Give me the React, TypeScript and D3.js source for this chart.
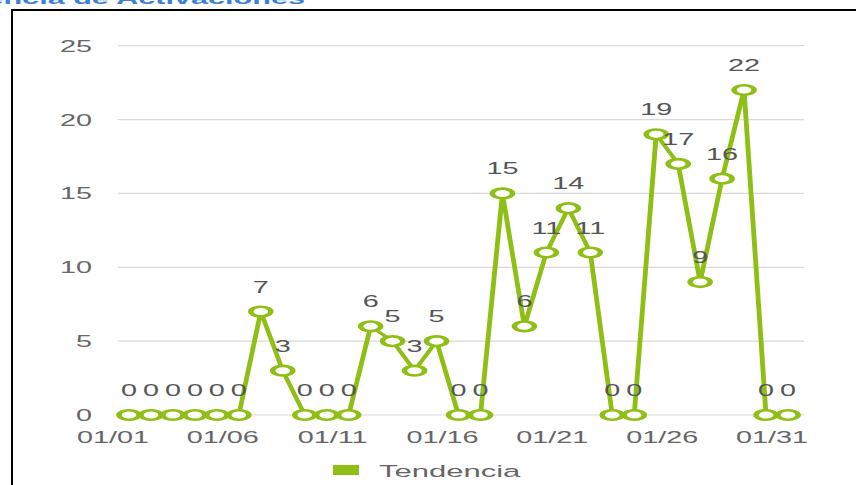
import React from "react";
import * as d3 from "d3";

const dates = Array.from({ length: 31 }, (_, i) => `01/${String(i + 1).padStart(2, "0")}`);
const values = [0, 0, 0, 0, 0, 0, 7, 3, 0, 0, 0, 6, 5, 3, 5, 0, 0, 15, 6, 11, 14, 11, 0, 0, 19, 17, 9, 16, 22, 0, 0];
const yTicks = [0, 5, 10, 15, 20, 25];
const xTickLabels = ["01/01", "01/06", "01/11", "01/16", "01/21", "01/26", "01/31"];
const seriesName = "Tendencia";
const title = "Tendencia de Activaciones";

const W = 856;
const H = 485;
const GREEN = "#8fbf14";
const SX = 2.1; // horizontal stretch of the plot marks
const TS = 1.8; // horizontal stretch of text

export default function App() {
  const x = d3.scaleLinear().domain([0, dates.length - 1]).range([129, 788]);
  const y = d3.scaleLinear().domain([0, 25]).range([415, 45.7]);
  const xs = d3.scaleLinear().domain([0, dates.length - 1]).range([129 / SX, 788 / SX]);
  const line = d3
    .line<number>()
    .x((_, i) => xs(i))
    .y((d) => y(d));

  const font = "'Liberation Sans', Arial, sans-serif";

  return (
    <svg
      width={W}
      height={H}
      style={{ position: "fixed", left: 0, top: 0, background: "#fff" }}
    >
      <rect x={0} y={0} width={W} height={H} fill="#fff" />
      <text
        transform={`translate(305,4) scale(${TS},1)`}
        textAnchor="end"
        fontFamily={font}
        fontWeight="bold"
        fontSize={17}
        fill="#3d80d8"
      >
        {title}
      </text>
      <rect x={12} y={10} width={W + 20} height={H + 20} fill="none" stroke="#000" strokeWidth={2} />

      {/* gridlines */}
      {yTicks.map((t) => (
        <line key={t} x1={118} x2={804} y1={y(t)} y2={y(t)} stroke="#d9d9d9" strokeWidth={1.2} />
      ))}
      {/* y labels */}
      {yTicks.map((t) => (
        <text
          key={"yl" + t}
          transform={`translate(92,${y(t) + 6}) scale(${TS},1)`}
          textAnchor="end"
          fontFamily={font}
          fontSize={16}
          fill="#666"
        >
          {t}
        </text>
      ))}
      {/* x labels */}
      {xTickLabels.map((lab) => {
        const i = dates.indexOf(lab);
        return (
          <text
            key={lab}
            transform={`translate(${x(i) - 16},443) scale(${TS},1)`}
            textAnchor="middle"
            fontFamily={font}
            fontSize={16}
            fill="#666"
          >
            {lab}
          </text>
        );
      })}

      {/* line */}
      <g transform={`scale(${SX},1)`}>
        <path
          d={line(values) || ""}
          fill="none"
          stroke={GREEN}
          strokeWidth={2.3}
          strokeLinejoin="round"
        />
      </g>
      {/* markers */}
      {values.map((v, i) => (
        <circle
          key={"m" + i}
          transform={`translate(${x(i)},${y(v)}) scale(${SX},1)`}
          r={4.8}
          fill="#fff"
          stroke={GREEN}
          strokeWidth={2.6}
        />
      ))}
      {/* value labels */}
      {values.map((v, i) => (
        <text
          key={"v" + i}
          transform={`translate(${x(i)},${y(v) - 19}) scale(${TS},1)`}
          textAnchor="middle"
          fontFamily={font}
          fontSize={16}
          fill="#555"
        >
          {v}
        </text>
      ))}

      {/* legend */}
      <rect x={333} y={465} width={26} height={10} fill={GREEN} />
      <text
        transform={`translate(379,477) scale(1.88,1)`}
        fontFamily={font}
        fontSize={16.5}
        fill="#666"
      >
        {seriesName}
      </text>
    </svg>
  );
}
